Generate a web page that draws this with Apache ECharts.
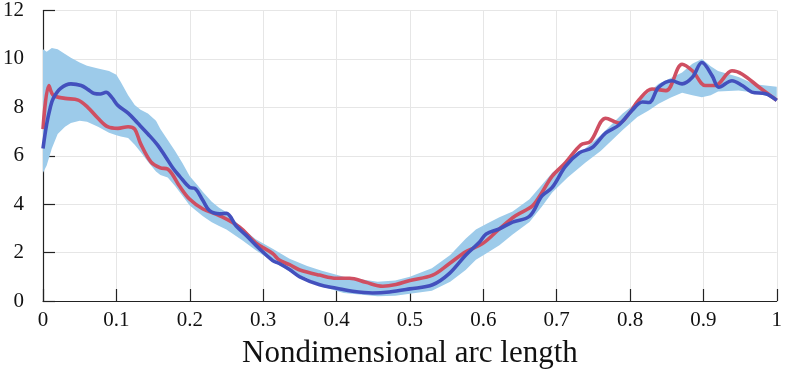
<!DOCTYPE html>
<html>
<head>
<meta charset="utf-8">
<script src="https://cdn.jsdelivr.net/npm/echarts@6/dist/echarts.min.js"></script>
<style>html,body{margin:0;padding:0;background:#fff}#c{width:785px;height:374px}</style>
</head>
<body>
<div id="c"></div>
<script>
// Band (shared x), lower and upper bounds
const bandX = [0,0.005,0.012,0.02,0.03,0.038,0.05,0.06,0.075,0.09,0.1,0.106,0.116,0.125,0.133,0.143,0.154,0.16,0.17,0.18,0.19,0.2,0.21,0.218,0.23,0.24,0.25,0.26,0.272,0.29,0.313,0.336,0.36,0.38,0.41,0.456,0.48,0.5,0.53,0.555,0.576,0.59,0.604,0.622,0.64,0.663,0.68,0.694,0.715,0.739,0.76,0.79,0.81,0.826,0.839,0.855,0.871,0.885,0.898,0.91,0.92,0.948,0.97,1.0];
const bandLower = [5.3,5.6,6.3,6.9,7.2,7.35,7.45,7.4,7.2,6.95,6.85,6.8,6.73,6.45,6.16,5.75,5.35,5.2,5.1,4.75,4.35,3.95,3.7,3.5,3.25,3.1,2.95,2.75,2.5,2.1,1.63,1.22,0.95,0.6,0.33,0.2,0.22,0.3,0.42,0.8,1.28,1.7,1.96,2.3,2.75,3.26,3.9,4.48,5.1,5.71,6.2,7.06,7.6,7.88,8.15,8.4,8.6,8.5,8.42,8.5,8.65,8.7,8.6,8.35];
const bandUpper = [10.4,10.3,10.45,10.4,10.2,10.05,9.85,9.72,9.6,9.5,9.35,9.05,8.5,8.1,7.9,7.75,7.45,7.1,6.65,6.2,5.7,5.15,4.8,4.5,4.1,3.85,3.67,3.35,3.0,2.55,2.16,1.75,1.45,1.25,1.0,0.8,0.85,1.0,1.35,1.9,2.57,2.95,3.18,3.46,3.7,4.2,4.8,5.3,5.8,6.3,6.85,7.75,8.22,8.63,8.97,9.2,9.44,9.8,10.0,9.7,9.5,9.25,8.95,8.85];

// Blue line
const blueX = [0,0.005,0.01,0.014,0.024,0.038,0.052,0.062,0.07,0.078,0.086,0.094,0.102,0.116,0.129,0.143,0.156,0.167,0.178,0.186,0.2,0.207,0.218,0.227,0.241,0.25,0.263,0.277,0.295,0.313,0.322,0.336,0.35,0.377,0.4,0.422,0.449,0.472,0.5,0.531,0.554,0.576,0.595,0.604,0.622,0.64,0.663,0.68,0.694,0.712,0.731,0.748,0.767,0.785,0.803,0.817,0.826,0.839,0.857,0.871,0.885,0.898,0.912,0.921,0.939,0.953,0.966,0.985,1.0];
const blueY = [6.3,7.3,8.0,8.37,8.78,8.97,8.9,8.72,8.57,8.55,8.62,8.4,8.08,7.76,7.35,6.9,6.45,5.96,5.45,5.16,4.69,4.65,4.15,3.73,3.6,3.62,3.11,2.71,2.16,1.67,1.55,1.3,1.0,0.67,0.53,0.4,0.33,0.37,0.5,0.67,1.14,1.89,2.44,2.77,2.98,3.26,3.5,4.34,4.69,5.56,6.12,6.33,6.94,7.27,7.88,8.22,8.2,8.83,9.1,8.97,9.24,9.85,9.3,8.83,9.1,8.9,8.63,8.56,8.29];

// Red line
const redX = [0,0.008,0.014,0.03,0.048,0.061,0.075,0.088,0.102,0.116,0.125,0.133,0.147,0.16,0.17,0.177,0.186,0.2,0.218,0.241,0.268,0.29,0.313,0.322,0.336,0.35,0.377,0.4,0.418,0.44,0.463,0.481,0.5,0.531,0.554,0.576,0.599,0.622,0.644,0.667,0.68,0.694,0.712,0.733,0.746,0.767,0.785,0.799,0.812,0.83,0.849,0.871,0.885,0.903,0.916,0.939,0.953,0.976,1.0];
const redY = [7.1,8.9,8.5,8.37,8.3,8.0,7.55,7.2,7.13,7.2,7.1,6.5,5.75,5.5,5.45,5.2,4.75,4.2,3.8,3.52,3.05,2.4,1.96,1.69,1.5,1.28,1.07,0.94,0.94,0.77,0.61,0.68,0.85,1.07,1.55,2.03,2.37,2.98,3.52,3.93,4.48,5.16,5.71,6.45,6.59,7.55,7.35,7.75,8.3,8.76,8.69,9.78,9.51,8.9,8.9,9.51,9.37,8.83,8.29];

const xTicks = [0,0.1,0.2,0.3,0.4,0.5,0.6,0.7,0.8,0.9,1];
const yTicks = [0,2,4,6,8,10,12];

const pairs = (xs, ys) => xs.map((x, i) => [x, ys[i]]);
const bandData = bandX.map((x, i) => [x, bandLower[i], bandUpper[i]]);

const FONT = '"Liberation Serif", "Times New Roman", serif';
const chart = echarts.init(document.getElementById('c'), null, {renderer: 'canvas'});
chart.setOption({
  animation: false,
  backgroundColor: '#fff',
  grid: {left: 43, right: 7, top: 9, bottom: 71},
  xAxis: {
    type: 'value', min: xTicks[0], max: xTicks[xTicks.length - 1], interval: 0.1,
    name: 'Nondimensional arc length', nameLocation: 'middle', nameGap: 37,
    nameTextStyle: {fontFamily: FONT, fontSize: 31, color: '#111'},
    axisLine: {show: true, onZero: false, lineStyle: {color: '#222', width: 1.2}},
    axisTick: {show: true, inside: true, length: 12, lineStyle: {color: '#222', width: 1.2}},
    axisLabel: {fontFamily: FONT, fontSize: 21, color: '#111', margin: 9,
      formatter: v => String(Math.round(v * 10) / 10)},
    splitLine: {show: true, lineStyle: {color: '#e6e6e6', width: 1}}
  },
  yAxis: {
    type: 'value', min: yTicks[0], max: yTicks[yTicks.length - 1], interval: 2,
    axisLine: {show: true, lineStyle: {color: '#222', width: 1.2}},
    axisTick: {show: true, inside: true, length: 12, lineStyle: {color: '#222', width: 1.2}},
    axisLabel: {fontFamily: FONT, fontSize: 21, color: '#111', margin: 19},
    splitLine: {show: true, lineStyle: {color: '#e6e6e6', width: 1}}
  },
  series: [
    {
      type: 'custom', data: bandData, silent: true, z: 1,
      encode: {x: 0, y: [1, 2]},
      renderItem: function (params, api) {
        if (params.dataIndex !== 0) return null;
        const up = bandData.map(d => api.coord([d[0], d[2]]));
        const lo = bandData.map(d => api.coord([d[0], d[1]])).reverse();
        return {
          type: 'polygon',
          shape: {points: up.concat(lo), smooth: 0},
          style: {fill: '#9dcbea', stroke: null}
        };
      }
    },
    {type: 'line', data: pairs(redX, redY), symbol: 'none', smooth: 0.35,
     lineStyle: {color: '#cf4f62', width: 3.6}, z: 3},
    {type: 'line', data: pairs(blueX, blueY), symbol: 'none', smooth: 0.35,
     lineStyle: {color: '#4350bd', width: 3.6}, z: 4}
  ]
});
</script>
</body>
</html>
